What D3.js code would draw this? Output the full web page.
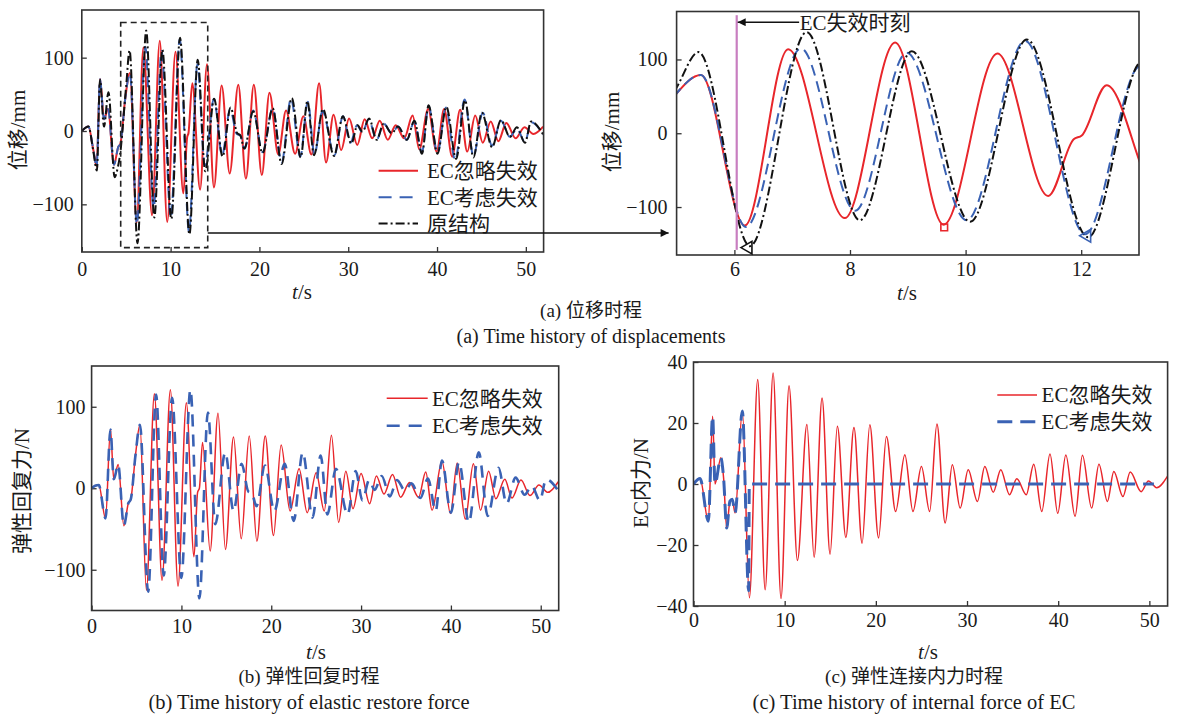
<!DOCTYPE html>
<html><head><meta charset="utf-8">
<script src="https://cdn.jsdelivr.net/npm/d3@7"></script>
<style>
body{margin:0;background:#fff;}
svg{display:block;background:#fff;}
text{font-family:"Liberation Serif","Times New Roman","Noto Sans CJK SC",serif;fill:#1a1a1a;}
</style></head><body>
<svg id="chart" width="1178" height="714"></svg>
<script>
// ---------- DATA ----------
const xTicksFull = [0,10,20,30,40,50];
const xTicksZoom = [6,8,10,12];
const yTicksDisp = [-100,0,100];
const yTicksForce = [-100,0,100];
const yTicksEC = [-40,-20,0,20,40];

const seriesNames = ["EC忽略失效","EC考虑失效","原结构"];

// (a) displacement, mm  [t (s), value]
const dispRed = [[0,0],[0.75,6],[1.3,-26],[1.67,-48],[2.05,71],[2.5,16],[2.95,30],[3.62,-46],[4.1,-22],[4.35,-17],[4.9,45],[5.42,79],[6.18,-125],[6.93,114],[7.91,-115],[8.78,123],[9.62,-124],[10.55,108],[11.43,-85],[11.87,-8],[12.01,-3],[12.44,65],[13.32,-80],[14.1,91],[14.88,-77],[15.75,62],[16.65,-58],[17.62,63],[18.48,-65],[19.37,63],[20.27,-60],[21.13,52],[22.12,-32],[23.0,28],[24.02,-31],[24.95,20],[25.85,-32],[26.72,65],[27.5,-43],[28.35,22],[29.2,-26],[30.1,17],[31.02,-19],[31.85,16],[32.7,-10],[33.55,14],[34.45,-12],[35.35,8],[36.3,-10],[37.25,21],[38.0,-25],[39.0,30],[39.95,-28],[40.8,30],[41.7,-35],[42.6,29],[43.4,-28],[44.3,21],[45.15,-16],[46.05,13],[46.9,-14],[47.8,11],[48.85,-10],[49.85,5],[50.85,-4],[51.95,6]];
const dispBlue = [[0,0],[0.75,6],[1.3,-26],[1.67,-48],[2.05,71],[2.5,16],[2.95,30],[3.62,-46],[4.1,-22],[4.35,-17],[4.9,45],[5.42,79],[6.2,-127],[7.15,115],[8.09,-105],[8.98,109],[10.02,-118],[11.03,125],[12.07,-137],[13.02,91],[13.85,-47],[14.88,44],[15.8,-33],[16.7,30],[17.45,-4],[17.85,-6],[18.33,-24],[19.3,28],[20.35,-29],[21.5,31],[22.5,-43],[23.55,44],[24.6,-35],[25.45,40],[26.2,-32],[27.1,27],[28.45,-33],[29.4,20],[30.25,-16],[31.0,8],[31.6,-2],[32.3,16],[33.2,-12],[34.0,10],[34.9,-3],[35.6,6],[36.6,-12],[37.45,13],[38.3,-29],[39.05,34],[40.05,-30],[41.0,32],[42.05,-40],[43.1,43],[44.1,-34],[45.15,25],[46.2,-20],[47.2,14],[48.2,-8],[49.0,3],[49.9,-15],[50.6,12],[51.95,-5]];
const dispOrig = [[0,0],[0.75,6],[1.3,-28],[1.7,-54],[2.05,70],[2.5,6],[3.0,53],[3.7,-63],[4.05,-50],[4.3,-33],[5.0,62],[5.38,110],[6.27,-153],[7.25,137],[8.17,-118],[9.07,111],[10.08,-120],[11.06,127],[12.12,-141],[13.05,97],[13.9,-55],[14.9,44],[15.85,-35],[16.75,32],[17.5,-3],[17.85,-6],[18.3,-24],[19.3,27],[20.35,-30],[21.5,31],[22.5,-45],[23.65,45],[24.65,-36],[25.4,41],[26.15,-33],[27.15,30],[28.4,-34],[29.4,20],[30.35,-17],[31.05,8],[31.6,-1],[32.35,17],[33.2,-12],[34.0,10],[34.9,-3],[35.6,6],[36.6,-12],[37.45,14],[38.3,-31],[39.05,35],[40.05,-31],[41.05,33],[42.15,-38],[43.15,42],[44.1,-36],[45.05,25],[46.2,-22],[47.2,15],[48.2,-8],[49.0,5],[49.9,-16],[50.6,13],[51.95,-5]];

// (b) elastic restore force, N
const forceRed = [[0,0],[0.4,3],[0.8,4],[1.55,-37],[2.1,72],[2.47,11],[2.96,29],[3.59,-46],[4.1,-18],[4.35,-14],[4.9,42],[5.38,78],[6.1,-125],[6.99,116],[7.84,-113],[8.77,121],[9.62,-120],[10.55,105],[11.4,-84],[11.8,-5],[12.0,0],[12.35,56],[13.2,-77],[14.07,92],[14.9,-75],[15.8,63],[16.66,-62],[17.55,64],[18.4,-65],[19.33,64],[20.25,-58],[21.1,53],[22.1,-28],[23.1,24],[24.0,-30],[25.0,19],[25.9,-28],[26.7,65],[27.5,-42],[28.3,21],[29.1,-25],[30.0,18],[30.95,-19],[31.7,15],[32.55,-7],[33.5,17],[34.4,-11],[35.4,7],[36.4,-11],[37.2,20],[37.9,-27],[39.0,33],[39.95,-31],[40.7,31],[41.6,-38],[42.5,30],[43.3,-27],[44.2,21],[45.0,-13],[46.0,11],[46.8,-12],[47.8,10],[48.8,-9],[49.8,4],[50.8,-5],[51.95,8]];
const forceBlue = [[0,0],[0.4,3],[0.8,4],[1.55,-37],[2.1,72],[2.47,11],[2.96,29],[3.59,-46],[4.1,-18],[4.35,-14],[4.9,42],[5.38,78],[6.3,-127],[7.18,115],[8.03,-107],[8.96,111],[9.99,-110],[11.0,121],[12.0,-135],[12.95,93],[13.77,-44],[14.88,44],[15.8,-28],[16.7,30],[17.45,-4],[17.85,-6],[18.35,-22],[19.3,28],[20.35,-28],[21.5,30],[22.5,-40],[23.5,44],[24.6,-36],[25.5,40],[26.25,-32],[27.2,24],[28.5,-32],[29.4,21],[30.15,-15],[30.9,10],[31.5,-2],[32.3,15],[33.2,-10],[34.0,10],[34.9,-3],[35.6,6],[36.6,-12],[37.45,12],[38.3,-28],[39.0,34],[40.0,-30],[40.9,32],[42.0,-42],[43.1,44],[44.1,-34],[45.3,25],[46.2,-19],[47.2,13],[48.2,-8],[49.0,3],[49.9,-15],[50.6,11],[51.95,-3]];

// (c) EC internal force, N
const ecRed = [[0,0],[0.72,1.8],[1.63,-12.2],[2.1,22.2],[2.36,0],[3.0,8.6],[3.3,2],[3.64,-14.4],[4.0,-5.6],[4.25,-5],[4.56,-9.5],[5.36,23.9],[6.13,-37.3],[7.04,34.3],[7.86,-34.7],[8.73,36.4],[9.6,-37.5],[10.48,32.2],[11.4,-25.1],[12.44,19.5],[13.23,-24],[14.1,28.2],[14.98,-23],[15.78,18.9],[16.71,-17.5],[17.6,18.5],[18.49,-19.4],[19.34,19.4],[20.3,-17.7],[21.16,15.6],[22.17,-9],[23.18,9.6],[24.07,-9],[25.0,5.7],[25.9,-9],[26.7,19.7],[27.6,-12.8],[28.39,6.3],[29.25,-7.9],[30.13,4.7],[31.14,-5.7],[31.95,5.7],[32.88,-2.7],[33.7,4.7],[34.66,-3.5],[35.46,1.7],[36.5,-3.5],[37.32,6.5],[38.2,-9],[39.1,9.8],[39.95,-9.6],[40.84,9.5],[41.85,-10.6],[42.66,9.4],[43.67,-7.9],[44.47,6.5],[45.4,-5.7],[46.1,4.1],[47.1,-4.1],[47.9,3.9],[49.1,-2.5],[49.9,1],[50.8,-1.2],[52,2.6]];
const ecBlue = [[0,0],[0.72,1.8],[1.63,-12.2],[2.1,22.2],[2.36,0],[3.0,8.6],[3.3,2],[3.64,-14.4],[4.0,-5.6],[4.25,-5],[4.56,-9.5],[5.36,23.9],[6.05,-35],[6.12,0],[50.5,0]];

// annotations (data coordinates)
const failT = 6.04;
const zoomWindow = {t0:4.38, t1:14.18, v0:-159, v1:148, arrowV:-139};
const markers = [
  {t:6.24, v:-155, shape:"tri", color:"#111"},
  {t:9.63, v:-127.5, shape:"sq", color:"#e8262b"},
  {t:12.1, v:-139, shape:"tri", color:"#3a62b4"}
];

// ---------- STYLE ----------
const RED="#e8262b", BLUE="#3a62b4", BLACK="#111";
const svg=d3.select("#chart");
let clipN=0;

function makePanel(o){
  const x=d3.scaleLinear().domain(o.xd).range([o.left,o.right]);
  const y=d3.scaleLinear().domain(o.yd).range([o.bottom,o.top]);
  const g=svg.append("g");
  const id="clip"+(clipN++);
  svg.append("clipPath").attr("id",id).append("rect")
     .attr("x",o.left).attr("y",o.top).attr("width",o.right-o.left).attr("height",o.bottom-o.top);
  const xa=g.append("g").attr("transform",`translate(0,${o.bottom})`)
     .call(d3.axisBottom(x).tickValues(o.xt).tickSize(-5).tickPadding(o.xpad).tickFormat(d3.format("d")));
  const ya=g.append("g").attr("transform",`translate(${o.left},0)`)
     .call(d3.axisLeft(y).tickValues(o.yt).tickSize(-5).tickPadding(o.ypad).tickFormat(d3.format("d")));
  [xa,ya].forEach(a=>{
    a.select(".domain").remove();
    a.selectAll("line").attr("stroke","#333").attr("stroke-width",1.3);
    a.selectAll("text").attr("font-size",20).attr("fill","#1a1a1a");
  });
  const plot=g.append("g").attr("clip-path",`url(#${id})`);
  return {x,y,g,plot,o,frame(){
    g.append("rect").attr("x",o.left).attr("y",o.top).attr("width",o.right-o.left).attr("height",o.bottom-o.top)
     .attr("fill","none").attr("stroke","#333").attr("stroke-width",1.6);
  }};
}
function drawLine(p,data,color,w,dash){
  const line=d3.line().x(d=>p.x(d[0])).y(d=>p.y(d[1])).curve(d3.curveMonotoneX);
  p.plot.append("path").datum(data).attr("d",line).attr("fill","none")
    .attr("stroke",color).attr("stroke-width",w).attr("stroke-dasharray",dash||null)
    .attr("stroke-linejoin","round");
}
function xlabel(x,y){
  const t=svg.append("text").attr("x",x).attr("y",y).attr("text-anchor","middle").attr("dy","0.35em").attr("font-size",21);
  t.append("tspan").attr("font-style","italic").text("t");
  t.append("tspan").text("/s");
}
function ylabel(x,y,txt){
  svg.append("text").attr("transform",`translate(${x},${y}) rotate(-90)`).attr("text-anchor","middle")
    .attr("dy","0.35em").attr("font-size",21).text(txt);
}
function legend(x0,x1,tx,rows){
  rows.forEach(r=>{
    svg.append("line").attr("x1",x0).attr("x2",x1).attr("y1",r.y).attr("y2",r.y)
      .attr("stroke",r.color).attr("stroke-width",r.w).attr("stroke-dasharray",r.dash||null);
    svg.append("text").attr("x",tx).attr("y",r.y).attr("dy","0.35em").attr("font-size",21).text(r.name);
  });
}
function caption(x,y,txt,fs){
  svg.append("text").attr("x",x).attr("y",y).attr("dy","0.35em").attr("text-anchor","middle").attr("font-size",fs).text(txt);
}

// arrow marker
svg.append("defs").append("marker").attr("id","arr").attr("viewBox","0 0 10 10").attr("refX",10).attr("refY",5)
  .attr("markerWidth",10).attr("markerHeight",8).attr("markerUnits","userSpaceOnUse").attr("orient","auto")
  .append("path").attr("d","M0,0L10,5L0,10Z").attr("fill","#111");

const DASH_A="11,6", DASHDOT="9,3,2,3";

// ---------- (a) left ----------
const pA=makePanel({left:81.8,right:543.6,top:10,bottom:252,xd:[0,52],yd:[-165,165],xt:xTicksFull,yt:yTicksDisp,xpad:10,ypad:8});
drawLine(pA,dispRed,RED,2);
drawLine(pA,dispBlue,BLUE,2,DASH_A);
drawLine(pA,dispOrig,BLACK,2,DASHDOT);
pA.frame();
// zoom window
svg.append("rect").attr("x",pA.x(zoomWindow.t0)).attr("y",pA.y(zoomWindow.v1))
  .attr("width",pA.x(zoomWindow.t1)-pA.x(zoomWindow.t0)).attr("height",pA.y(zoomWindow.v0)-pA.y(zoomWindow.v1))
  .attr("fill","none").attr("stroke","#222").attr("stroke-width",1.6).attr("stroke-dasharray","6,4");

// ---------- (a) right ----------
const pR=makePanel({left:676.6,right:1139,top:11.5,bottom:255,xd:[5,13],yd:[-165,165],xt:xTicksZoom,yt:yTicksDisp,xpad:7,ypad:9});
drawLine(pR,dispRed,RED,2);
drawLine(pR,dispBlue,BLUE,2,DASH_A);
drawLine(pR,dispOrig,BLACK,2,DASHDOT);
// failure line
svg.append("line").attr("x1",pR.x(failT)).attr("x2",pR.x(failT)).attr("y1",pR.y(160)).attr("y2",pR.y(-158))
  .attr("stroke","#c87ec0").attr("stroke-width",2.2);
// markers
markers.forEach(m=>{
  const sym = m.shape==="tri" ? d3.symbol().type(d3.symbolTriangle).size(70) : d3.symbol().type(d3.symbolSquare).size(45);
  svg.append("path").attr("d",sym()).attr("transform",`translate(${pR.x(m.t)},${pR.y(m.v)})`+(m.shape==="tri"?" rotate(-90)":""))
    .attr("fill","none").attr("stroke",m.color).attr("stroke-width",1.6);
});
pR.frame();
// annotation
svg.append("line").attr("x1",pR.x(7.12)).attr("x2",pR.x(failT)+1).attr("y1",pR.y(150.5)).attr("y2",pR.y(150.5))
  .attr("stroke","#111").attr("stroke-width",1.4).attr("marker-end","url(#arr)");
svg.append("text").attr("x",pR.x(7.13)).attr("y",pR.y(150.5)).attr("dy","0.35em").attr("font-size",21).text("EC失效时刻");
// connecting arrow
svg.append("line").attr("x1",pA.x(zoomWindow.t1)).attr("x2",pR.o.left-8).attr("y1",pA.y(zoomWindow.arrowV)).attr("y2",pA.y(zoomWindow.arrowV))
  .attr("stroke","#111").attr("stroke-width",1.4).attr("marker-end","url(#arr)");

legend(378.6,418,427,[
  {y:170.7,color:RED,w:2,name:seriesNames[0]},
  {y:197.3,color:BLUE,w:2,dash:"13,8",name:seriesNames[1]},
  {y:223.5,color:BLACK,w:2.2,dash:DASHDOT,name:seriesNames[2]}
]);
ylabel(18,130,"位移/mm");
ylabel(612,132,"位移/mm");
xlabel(302,292);
xlabel(907,293);
caption(591,310,"(a) 位移时程",19);
caption(591,336,"(a) Time history of displacements",20);

// ---------- (b) ----------
const pB=makePanel({left:91.6,right:558.7,top:366,bottom:610.5,xd:[0,52],yd:[-150,150],xt:xTicksFull,yt:yTicksForce,xpad:8,ypad:6});
drawLine(pB,forceRed,RED,1.5);
drawLine(pB,forceBlue,BLUE,2.6,"12,8");
pB.frame();
legend(386.7,427.7,432,[
  {y:398.3,color:RED,w:1.5,name:seriesNames[0]},
  {y:425.7,color:BLUE,w:2.6,dash:"13,9",name:seriesNames[1]}
]);
ylabel(22,491,"弹性回复力/N");
xlabel(316,652);
caption(309,676,"(b) 弹性回复时程",19);
caption(309,702,"(b) Time history of elastic restore force",20.5);

// ---------- (c) ----------
const pC=makePanel({left:693.5,right:1167.6,top:362,bottom:606,xd:[0,52],yd:[-40,40],xt:xTicksFull,yt:yTicksEC,xpad:7,ypad:6});
drawLine(pC,ecRed,RED,1.5);
drawLine(pC,ecBlue,BLUE,3,"15,8");
pC.frame();
legend(997.3,1037,1041.6,[
  {y:395,color:RED,w:1.5,name:seriesNames[0]},
  {y:421.7,color:BLUE,w:3,dash:"15,8",name:seriesNames[1]}
]);
ylabel(640.5,483,"EC内力/N");
xlabel(928,652);
caption(914,676,"(c) 弹性连接内力时程",19);
caption(914,702,"(c) Time history of internal force of EC",20.5);
</script>
</body></html>
